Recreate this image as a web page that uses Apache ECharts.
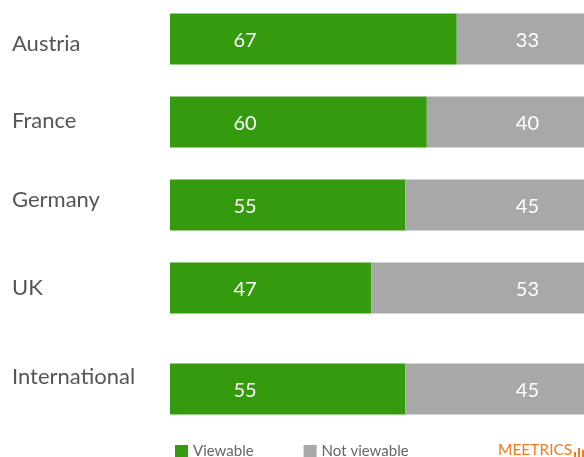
<!DOCTYPE html>
<html>
<head>
<meta charset="utf-8">
<script src="https://cdn.jsdelivr.net/npm/echarts@6/dist/echarts.min.js"></script>
<style>
    html, body { margin: 0; padding: 0; background: #fff; }
    #chart { width: 584px; height: 457px; }
</style>
</head>
<body>
<div id="chart"></div>
<script>
    // countries (top block) and the international average (bottom block)
    var countries = ['Austria', 'France', 'Germany', 'UK'];
    var viewable = [67, 60, 55, 47];
    var notViewable = [33, 40, 45, 53];

    var intlName = ['International'];
    var intlViewable = [55];
    var intlNotViewable = [45];

    var green = '#349a0e';
    var grey = '#a8a8a8';
    var font = 'Lato';

    // small per-label vertical nudges, same as the picture
    var catRich = {
        Austria: { padding: [10, 0, 0, 0] },
        France: { padding: [0, 0, 2, 0] },
        Germany: { padding: [0, 0, 10, 0] },
        UK: { padding: [0, 0, 0, 0] },
        International: { padding: [0, 0, 24, 0] }
    };
    for (var k in catRich) {
        catRich[k].color = '#555';
        catRich[k].fontSize = 22;
        catRich[k].fontFamily = font;
    }

    var myChart = echarts.init(document.getElementById('chart'));

    var greenLabel = {
        show: true,
        position: [75, '50%'],
        align: 'center',
        verticalAlign: 'middle',
        offset: [0, 1.5],
        color: '#fff',
        fontFamily: font,
        fontSize: 20
    };
    var greyLabel = {
        show: true,
        position: 'insideRight',
        distance: 59,
        offset: [0, 1.5],
        color: '#fff',
        fontFamily: font,
        fontSize: 20
    };

    var yLabel = {
        align: 'left',
        margin: 158,
        formatter: function (v) { return '{' + v + '|' + v + '}'; },
        rich: catRich
    };

    var option = {
        animation: false,
        textStyle: { fontFamily: font },
        legend: {
            left: 170,
            top: 439,
            itemWidth: 13,
            itemHeight: 13,
            itemGap: 50,
            icon: 'rect',
            textStyle: { color: '#666', fontSize: 15, fontFamily: font },
            data: ['Viewable', 'Not viewable']
        },
        grid: [
            { left: 170, right: -14, top: -2.5, height: 332, containLabel: false, outerBoundsMode: 'none' },
            { left: 170, right: -14, top: 363.5, height: 51, containLabel: false, outerBoundsMode: 'none' }
        ],
        xAxis: [
            { gridIndex: 0, type: 'value', min: 0, max: 100, show: false },
            { gridIndex: 1, type: 'value', min: 0, max: 100, show: false }
        ],
        yAxis: [
            {
                gridIndex: 0, type: 'category', inverse: true, data: countries,
                axisLine: { show: false }, axisTick: { show: false }, axisLabel: yLabel
            },
            {
                gridIndex: 1, type: 'category', inverse: true, data: intlName,
                axisLine: { show: false }, axisTick: { show: false }, axisLabel: yLabel
            }
        ],
        series: [
            {
                name: 'Viewable', type: 'bar', stack: 'a', xAxisIndex: 0, yAxisIndex: 0,
                barWidth: 51, itemStyle: { color: green }, label: greenLabel,
                data: viewable
            },
            {
                name: 'Not viewable', type: 'bar', stack: 'a', xAxisIndex: 0, yAxisIndex: 0,
                barWidth: 51, itemStyle: { color: grey }, label: greyLabel,
                data: notViewable
            },
            {
                name: 'Viewable', type: 'bar', stack: 'b', xAxisIndex: 1, yAxisIndex: 1,
                barWidth: 51, itemStyle: { color: green }, label: greenLabel,
                data: intlViewable
            },
            {
                name: 'Not viewable', type: 'bar', stack: 'b', xAxisIndex: 1, yAxisIndex: 1,
                barWidth: 51, itemStyle: { color: grey }, label: greyLabel,
                data: intlNotViewable
            }
        ],
        graphic: [
            {
                type: 'text', left: 498, top: 442,
                style: { text: 'MEETRICS', fill: '#f47a1f', fontSize: 15.5, fontFamily: font }
            },
            { type: 'rect', left: 574, top: 452, shape: { width: 2, height: 5 }, style: { fill: '#f47a1f' } },
            { type: 'rect', left: 578, top: 448, shape: { width: 2, height: 9 }, style: { fill: '#f47a1f' } },
            { type: 'rect', left: 582, top: 450, shape: { width: 2, height: 7 }, style: { fill: '#f47a1f' } }
        ]
    };
    myChart.setOption(option);
</script>
</body>
</html>
